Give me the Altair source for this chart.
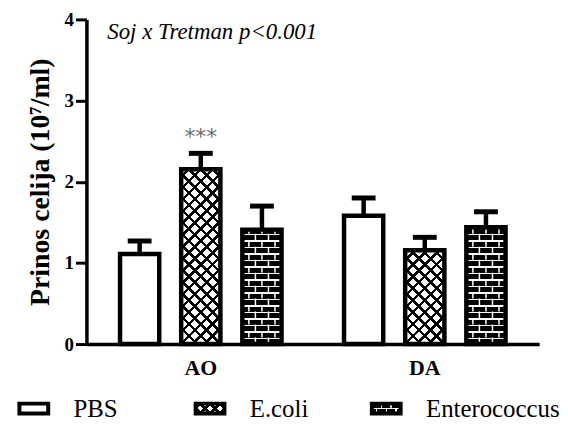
import math
import altair as alt
import pandas as pd

# ---------------- data ----------------
groups = ["AO", "DA"]
series = ["PBS", "E.coli", "Enterococcus"]
pbs_mean = [1.11, 1.58]
ecoli_mean = [2.155, 1.155]
entero_mean = [1.41, 1.44]
pbs_sem = [0.16, 0.22]
ecoli_sem = [0.195, 0.16]
entero_sem = [0.29, 0.19]
star_groups = ["AO"]
star_series = ["E.coli"]
star_labels = ["***"]
annotation = ["Soj x Tretman p<0.001"]
y_title = "Prinos celija (10\u2077/ml)"
y_ticks = [0, 1, 2, 3, 4]

rows = []
for s, means, sems in zip(series, [pbs_mean, ecoli_mean, entero_mean],
                          [pbs_sem, ecoli_sem, entero_sem]):
    for g, m, e in zip(groups, means, sems):
        rows.append({"group": g, "series": s, "mean": m, "upper": m + e})
df = pd.DataFrame(rows)
stars = pd.DataFrame({"group": star_groups, "series": star_series, "label": star_labels})
stars = stars.merge(df[["group", "series", "upper"]], on=["group", "series"])
legend_df = pd.DataFrame({"series": series})
note_df = pd.DataFrame({"note": annotation})

# ---------------- geometry / style ----------------
W_PLOT, H_PLOT, Y_MAX = 456, 327, 4
PAT_TOP = 2.4                      # height up to which fill patterns are laid
X_PI, X_PO, O_PI = 0.279, 0.15, 0.359
step_x = W_PLOT / (2 - X_PI + 2 * X_PO)
bw_x = step_x * (1 - X_PI)
step_o = bw_x / (3 - O_PI)
BAR_W = step_o * (1 - O_PI)
PAT_H = PAT_TOP / Y_MAX * H_PLOT
SERIF = "Liberation Serif, Times New Roman, DejaVu Serif, serif"
LEGEND_RANGE = [-53, 302]          # legend swatch centres, relative to the plot's left edge


def seg_stops(L, segs, fg, bg):
    """Hard-edged gradient stops: fg on the given [a,b] pixel segments, bg elsewhere."""
    segs = sorted((max(0.0, a), min(L, b)) for a, b in segs if b > 0 and a < L)
    stops = []
    pos = 0.0
    for a, b in segs:
        if a > pos:
            stops += [(pos, bg), (a, bg)]
        stops += [(a, fg), (b, fg)]
        pos = b
    if pos < L:
        stops += [(pos, bg), (L, bg)]
    return [{"offset": round(o / L, 5), "color": c} for o, c in stops]


def periodic(L, period, width, phase=0.0):
    k = math.floor(-phase / period) - 1
    out = []
    while phase + k * period < L:
        a = phase + k * period
        out.append((a, a + width))
        k += 1
    return out


def diag_gradient(W, H, period, width, fg, bg, flip=False):
    r = W / H
    dy = (1 + r) / (1 + r * r)
    dx = r * dy
    L = W + H
    g = {"gradient": "linear", "stops": seg_stops(L, periodic(L, period, width, 2.0), fg, bg)}
    if flip:
        g.update({"x1": 1, "y1": 0, "x2": round(1 - dx, 5), "y2": round(dy, 5)})
    else:
        g.update({"x1": 0, "y1": 0, "x2": round(dx, 5), "y2": round(dy, 5)})
    return g


def vert_gradient(L, segs, fg, bg):
    return {"gradient": "linear", "x1": 0, "y1": 0, "x2": 0, "y2": 1,
            "stops": seg_stops(L, segs, fg, bg)}


def horiz_gradient(L, segs, fg, bg):
    return {"gradient": "linear", "x1": 0, "y1": 0, "x2": 1, "y2": 0,
            "stops": seg_stops(L, segs, fg, bg)}


# main-chart patterns
hatch_a = diag_gradient(BAR_W, PAT_H, 12, 3.6, "black", "white")
hatch_b = diag_gradient(BAR_W, PAT_H, 12, 3.6, "black", "transparent", flip=True)
N_ROWS = 30
ROW_P = PAT_H / N_ROWS
brick_bg = vert_gradient(PAT_H, [(k * ROW_P, k * ROW_P + 1.5) for k in range(N_ROWS + 1)],
                         "white", "black")

# ---------------- encodings ----------------
x_axis = alt.Axis(title=None, labelAngle=0, ticks=False, tickSize=0, grid=False,
                  labelFont=SERIF, labelFontSize=22, labelFontWeight="bold",
                  labelColor="black", labelPadding=14, domainColor="black",
                  domainWidth=3.5)
y_axis = alt.Axis(title=y_title, values=y_ticks, format="d", grid=False,
                  labelFont=SERIF, labelFontSize=19, labelFontWeight="bold",
                  labelColor="black", labelPadding=2, tickSize=11, tickWidth=3,
                  tickColor="black", domainColor="black", domainWidth=3.5,
                  titleFont=SERIF, titleFontSize=28, titleFontWeight="bold",
                  titleColor="black", titlePadding=10)
y_scale = alt.Scale(domain=[0, Y_MAX])
x_scale = alt.Scale(domain=groups, paddingInner=X_PI, paddingOuter=X_PO)

ex = alt.X("group:N", scale=x_scale, axis=x_axis)
exo = alt.XOffset("series:N", scale=alt.Scale(domain=series, paddingInner=O_PI, paddingOuter=0))


def yf(field):
    return alt.Y(field, scale=y_scale, axis=y_axis)


base = alt.Chart(df)
ecoli = base.transform_filter(alt.datum.series == "E.coli")
entero = base.transform_filter(alt.datum.series == "Enterococcus")
patterned = base.transform_filter(alt.datum.series != "PBS")

full_y = dict(y=alt.YDatum(PAT_TOP, scale=y_scale, axis=y_axis), y2=alt.Y2Datum(0))

layers = [
    ecoli.mark_bar(fill=hatch_a, strokeWidth=0).encode(x=ex, xOffset=exo, **full_y),
    ecoli.mark_bar(fill=hatch_b, strokeWidth=0).encode(x=ex, xOffset=exo, **full_y),
    entero.mark_bar(fill=brick_bg, strokeWidth=0).encode(x=ex, xOffset=exo, **full_y),
]
# vertical mortar joints of the bricks (position within the Enterococcus bar)
for frac, off in [(1 / 6, 0), (1 / 2, 0), (5 / 6, 0), (1 / 3, ROW_P), (2 / 3, ROW_P)]:
    bp = (2 * step_o + frac * BAR_W) / bw_x
    layers.append(
        entero.mark_rule(stroke="white", strokeWidth=1.5, strokeDash=[ROW_P, ROW_P],
                         strokeDashOffset=off)
        .encode(x=alt.X("group:N", bandPosition=bp, scale=x_scale, axis=x_axis), **full_y)
    )
layers += [
    # white cover above each bar top hides the pattern there
    patterned.mark_bar(fill="white", stroke="white", strokeWidth=2).encode(
        x=ex, xOffset=exo, y=yf("mean:Q"), y2=alt.Y2Datum(PAT_TOP)),
    base.mark_bar(fill="transparent", stroke="black", strokeWidth=4.5).encode(
        x=ex, xOffset=exo, y=yf("mean:Q")),
    base.mark_rule(color="black", strokeWidth=4.5).encode(
        x=ex, xOffset=exo, y=yf("mean:Q"), y2="upper:Q"),
    base.mark_tick(color="black", thickness=5, size=24, opacity=1).encode(
        x=ex, xOffset=exo, y=yf("upper:Q")),
    alt.Chart(stars).mark_text(font="DejaVu Sans", fontSize=22, color="#6e6e6e",
                               baseline="alphabetic", dy=-9).encode(
        x=ex, xOffset=exo, y=yf("upper:Q"), text="label:N"),
    alt.Chart(note_df).mark_text(align="left", baseline="alphabetic", font=SERIF,
                                 fontSize=23, fontStyle="italic", color="black").encode(
        x=alt.value(21), y=alt.value(20), text="note:N"),
]

main = alt.layer(*layers).properties(width=W_PLOT, height=H_PLOT)

# ---------------- legend ----------------
SW_W, SW_H = 29, 10
half = SW_H / SW_W
rect_path = f"M-1,{-half:.4f}H1V{half:.4f}H-1Z"
px = 2 / SW_W
mort_top, mort_bot = 4.0, 5.3
top_path = f"M-1,{-half:.4f}H1V{-half + mort_top * px:.4f}H-1Z"
bot_path = f"M-1,{-half + mort_bot * px:.4f}H1V{half:.4f}H-1Z"
SW_SIZE = SW_W ** 2

lg_hatch_a = diag_gradient(SW_W, SW_H, 10, 4, "black", "white")
lg_hatch_b = diag_gradient(SW_W, SW_H, 10, 4, "black", "transparent", flip=True)
lg_brick = vert_gradient(SW_H, [(mort_top, mort_bot)], "white", "black")
lg_top = horiz_gradient(SW_W, [(SW_W * f - 0.7, SW_W * f + 0.7) for f in (1 / 3, 2 / 3)],
                        "white", "transparent")
lg_bot = horiz_gradient(SW_W, [(SW_W * f - 0.7, SW_W * f + 0.7) for f in (1 / 6, 1 / 2, 5 / 6)],
                        "white", "transparent")

lx = alt.X("series:N", scale=alt.Scale(type="point", domain=series, range=LEGEND_RANGE,
                                       padding=0),
           axis=None)
lbase = alt.Chart(legend_df)
l_ecoli = lbase.transform_filter(alt.datum.series == "E.coli")
l_entero = lbase.transform_filter(alt.datum.series == "Enterococcus")


def sw(chart, shape, fill):
    return chart.mark_point(shape=shape, size=SW_SIZE, filled=True, fill=fill,
                            strokeWidth=0, opacity=1).encode(x=lx)


legend = alt.layer(
    sw(l_ecoli, rect_path, lg_hatch_a),
    sw(l_ecoli, rect_path, lg_hatch_b),
    sw(l_entero, rect_path, lg_brick),
    sw(l_entero, top_path, lg_top),
    sw(l_entero, bot_path, lg_bot),
    lbase.mark_point(shape=rect_path, size=SW_SIZE, filled=False, stroke="black",
                     strokeWidth=4, opacity=1).encode(x=lx),
    lbase.mark_text(align="left", baseline="middle", dx=40, font=SERIF, fontSize=25,
                    color="black").encode(x=lx, text="series:N"),
).properties(width=300, height=20)

chart = alt.vconcat(main, legend, spacing=17).properties(
    padding={"left": 3, "top": 1, "right": 0, "bottom": 0},
    background="white",
).configure_view(stroke=None)

chart.save("out.html", embed_options={"renderer": "svg", "actions": False})
